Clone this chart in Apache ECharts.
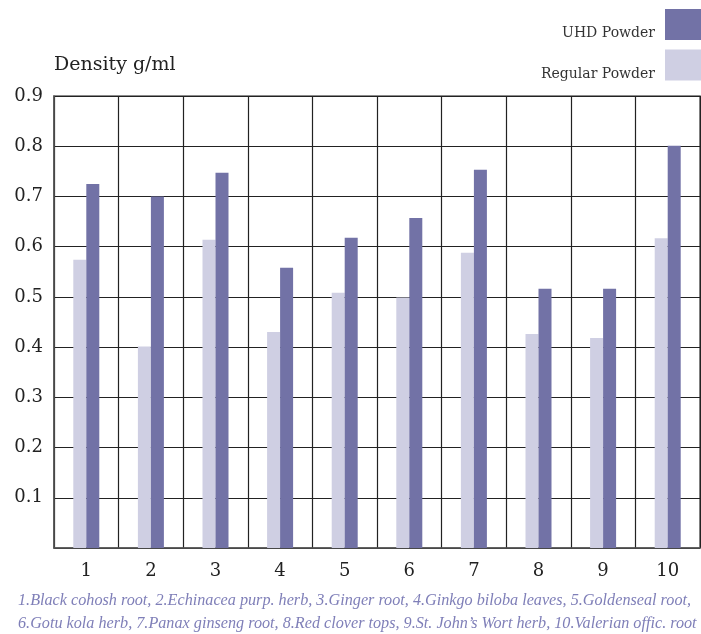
<!DOCTYPE html>
<html>
<head>
<meta charset="utf-8">
<script src="https://cdn.jsdelivr.net/npm/echarts@6/dist/echarts.min.js"></script>
<style>
html,body{margin:0;padding:0;background:#fff;}
#chart{width:701px;height:634px;}
</style>
</head>
<body>
<div id="chart"></div>
<script>
const categories = ['1','2','3','4','5','6','7','8','9','10'];
const regularPowder = [0.574, 0.401, 0.614, 0.430, 0.508, 0.499, 0.588, 0.426, 0.418, 0.617];
const uhdPowder = [0.725, 0.700, 0.747, 0.558, 0.618, 0.657, 0.753, 0.516, 0.516, 0.801];
const yTicks = [0, 0.1, 0.2, 0.3, 0.4, 0.5, 0.6, 0.7, 0.8, 0.9];
const footLine1 = '1.Black cohosh root, 2.Echinacea purp. herb, 3.Ginger root, 4.Ginkgo biloba leaves, 5.Goldenseal root,';
const footLine2 = '6.Gotu kola herb, 7.Panax ginseng root, 8.Red clover tops, 9.St. John\u2019s Wort herb, 10.Valerian offic. root';

const serif = 'DejaVu Serif';
const chart = echarts.init(document.getElementById('chart'));
chart.setOption({
  animation: false,
  backgroundColor: '#fff',
  grid: {left: 54, right: 1, top: 96, bottom: 86, show: true, borderColor: '#666', borderWidth: 1.5},
  legend: {
    orient: 'vertical', right: 0, top: 9, align: 'right', padding: 0,
    itemWidth: 36, itemHeight: 31, itemGap: 9, icon: 'rect',
    data: ['UHD Powder', 'Regular Powder'],
    formatter: '{t|{name}}',
    textStyle: {
      fontFamily: serif, fontSize: 14, color: '#333',
      rich: {t: {fontFamily: serif, fontSize: 14, color: '#333', padding: [18, 5, 0, 0]}}
    }
  },
  xAxis: {
    type: 'category', data: categories, boundaryGap: true,
    axisLine: {show: true, lineStyle: {color: '#555', width: 1.5}},
    axisTick: {show: false},
    splitLine: {show: true, lineStyle: {color: '#222', width: 1.2}},
    axisLabel: {fontFamily: serif, fontSize: 18, color: '#222', margin: 14}
  },
  yAxis: {
    type: 'value', min: yTicks[0], max: yTicks[yTicks.length - 1], interval: 0.1,
    name: 'Density g/ml', nameLocation: 'end', nameGap: 31,
    nameTextStyle: {fontFamily: serif, fontSize: 19, color: '#222', align: 'left', verticalAlign: 'middle'},
    axisLine: {show: true, lineStyle: {color: '#555', width: 1.5}},
    axisTick: {show: false},
    splitLine: {show: true, lineStyle: {color: '#222', width: 1.2}},
    axisLabel: {
      fontFamily: serif, fontSize: 18, color: '#222', margin: 11,
      formatter: v => (Math.abs(v) < 1e-9 ? '' : v.toFixed(1))
    }
  },
  series: [
    {name: 'Regular Powder', type: 'bar', data: regularPowder, barWidth: 13, barGap: '0%',
     itemStyle: {color: '#cfcfe3'}},
    {name: 'UHD Powder', type: 'bar', data: uhdPowder, barWidth: 13, barGap: '0%',
     itemStyle: {color: '#7272a6'}}
  ],
  graphic: [
    {type: 'text', left: 18, top: 593, style: {text: footLine1, font: 'italic 16.2px "Liberation Serif"', fill: '#7f7fb8'}},
    {type: 'text', left: 18, top: 616, style: {text: footLine2, font: 'italic 16.2px "Liberation Serif"', fill: '#7f7fb8'}}
  ]
});
</script>
</body>
</html>
